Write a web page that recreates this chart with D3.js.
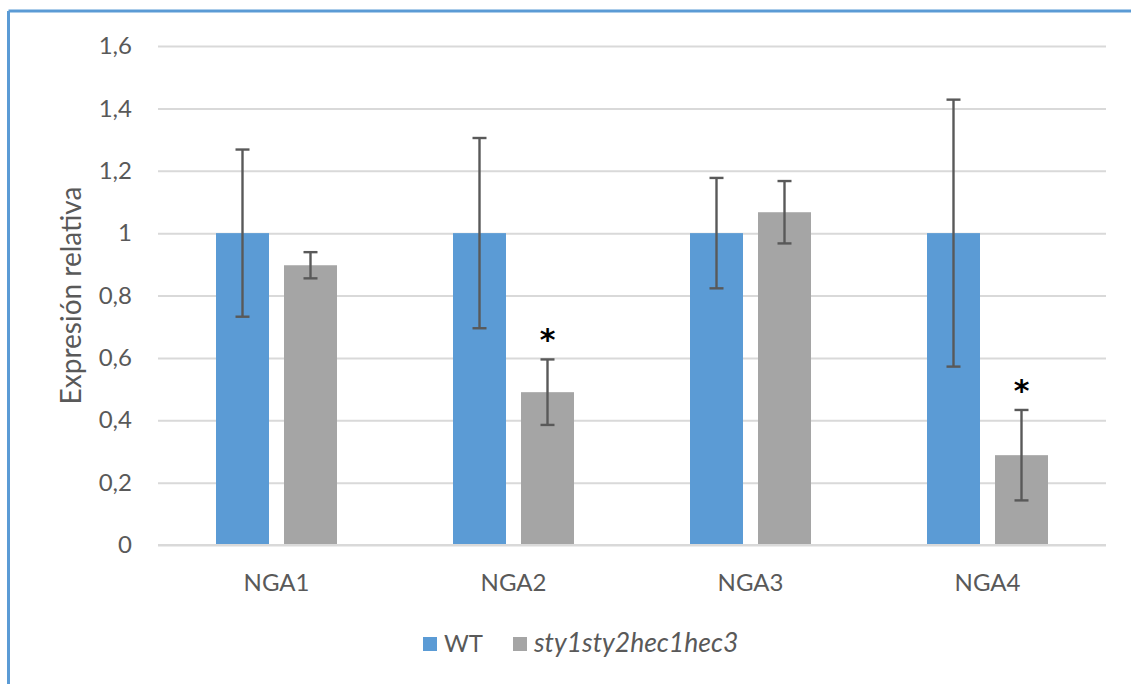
<!DOCTYPE html>
<html>
<head>
<meta charset="utf-8">
<script src="https://cdn.jsdelivr.net/npm/d3@7"></script>
<style>
  html, body { margin: 0; padding: 0; background: #fff; }
  svg { display: block; font-family: Lato, "Open Sans", sans-serif; }
</style>
</head>
<body>
<svg id="chart" width="1131" height="684"></svg>
<script>
const categories = ["NGA1", "NGA2", "NGA3", "NGA4"];
const seriesNames = ["WT", "sty1sty2hec1hec3"];
const wtValues = [1, 1, 1, 1];
const wtErrors = [0.268, 0.305, 0.177, 0.428];
const mutValues = [0.897, 0.49, 1.067, 0.288];
const mutErrors = [0.042, 0.105, 0.1, 0.145];
const significance = ["", "*", "", "*"];
const yTicks = [0, 0.2, 0.4, 0.6, 0.8, 1, 1.2, 1.4, 1.6];
const yTitle = "Expresión relativa";

const colors = { "WT": "#5b9bd5", "sty1sty2hec1hec3": "#a5a5a5" };
const textColor = "#595959";

const svg = d3.select("#chart");

// outer frame (top and left edges visible)
svg.append("line").attr("x1", 8.5).attr("x2", 1131).attr("y1", 11).attr("y2", 11)
  .attr("stroke", "#5b9bd5").attr("stroke-width", 3);
svg.append("line").attr("x1", 8.5).attr("x2", 8.5).attr("y1", 11).attr("y2", 684)
  .attr("stroke", "#5b9bd5").attr("stroke-width", 3);

const plot = { left: 158, right: 1106, top: 46, bottom: 545 };

const y = d3.scaleLinear().domain([0, 1.6]).range([plot.bottom, plot.top]);
const x = d3.scaleBand().domain(categories).range([plot.left, plot.right])
  .paddingInner(116 / 237).paddingOuter(58 / 237);
const xs = d3.scaleBand().domain(seriesNames).range([0, x.bandwidth()])
  .paddingInner(15 / 68);

// gridlines
const grid = svg.append("g").attr("transform", `translate(${plot.left},0)`)
  .call(d3.axisLeft(y).tickValues(yTicks).tickSize(-(plot.right - plot.left)).tickFormat(""));
grid.select(".domain").remove();
grid.selectAll(".tick line").attr("stroke", "#d9d9d9").attr("stroke-width", 2);

// y axis labels
const yAxis = svg.append("g").attr("transform", `translate(${plot.left},0)`)
  .call(d3.axisLeft(y).tickValues(yTicks).tickSize(0).tickPadding(26)
    .tickFormat(d => d3.format("~g")(d).replace(".", ",")));
yAxis.select(".domain").remove();
yAxis.selectAll("text").attr("fill", textColor).style("font-size", "24px")
  .style("font-family", "Lato, sans-serif");

// y title
svg.append("text")
  .attr("transform", `translate(81, ${(plot.top + plot.bottom) / 2}) rotate(-90)`)
  .attr("text-anchor", "middle")
  .attr("fill", textColor)
  .style("font-size", "28px")
  .text(yTitle);

// bars
const rows = categories.map((c, i) => [
  { cat: c, s: seriesNames[0], v: wtValues[i], e: wtErrors[i], sig: "" },
  { cat: c, s: seriesNames[1], v: mutValues[i], e: mutErrors[i], sig: significance[i] }
]).flat();

const g = svg.append("g");
g.selectAll("rect.bar").data(rows).join("rect")
  .attr("class", "bar")
  .attr("x", d => x(d.cat) + xs(d.s))
  .attr("y", d => y(d.v))
  .attr("width", xs.bandwidth())
  .attr("height", d => y(0) - y(d.v))
  .attr("fill", d => colors[d.s]);

// baseline (the 0 gridline drawn on top)
svg.append("line").attr("x1", plot.left).attr("x2", plot.right)
  .attr("y1", y(0)).attr("y2", y(0)).attr("stroke", "#d9d9d9").attr("stroke-width", 2);

// error bars
const eb = g.selectAll("g.err").data(rows).join("g").attr("class", "err")
  .attr("stroke", "#595959").attr("stroke-width", 2.4);
const cx = d => x(d.cat) + xs(d.s) + xs.bandwidth() / 2;
eb.append("line").attr("x1", cx).attr("x2", cx)
  .attr("y1", d => y(d.v + d.e)).attr("y2", d => y(d.v - d.e));
eb.append("line").attr("x1", d => cx(d) - 7).attr("x2", d => cx(d) + 7)
  .attr("y1", d => y(d.v + d.e)).attr("y2", d => y(d.v + d.e));
eb.append("line").attr("x1", d => cx(d) - 7).attr("x2", d => cx(d) + 7)
  .attr("y1", d => y(d.v - d.e)).attr("y2", d => y(d.v - d.e));

// significance asterisks
g.selectAll("text.sig").data(rows.filter(d => d.sig)).join("text")
  .attr("class", "sig")
  .attr("x", cx)
  .attr("y", d => y(d.v + d.e) - 9)
  .attr("text-anchor", "middle")
  .attr("fill", "#000")
  .style("font-size", "30px")
  .style("font-weight", "bold")
  .style("font-family", "'DejaVu Sans', sans-serif")
  .text(d => d.sig);

// x axis labels
const xAxis = svg.append("g").attr("transform", `translate(0,${plot.bottom})`)
  .call(d3.axisBottom(x).tickSize(0).tickPadding(29));
xAxis.select(".domain").remove();
xAxis.selectAll("text").attr("fill", textColor).style("font-size", "24px")
  .style("font-family", "Lato, sans-serif");

// legend
const legendItems = [
  { name: seriesNames[0], x: 423, italic: false, size: 24 },
  { name: seriesNames[1], x: 513, italic: true, size: 26.5 }
];
const lg = svg.append("g").selectAll("g").data(legendItems).join("g")
  .attr("transform", d => `translate(${d.x},637)`);
lg.append("rect").attr("width", 14).attr("height", 14).attr("fill", d => colors[d.name]);
lg.append("text").attr("x", 21).attr("y", 15)
  .attr("fill", textColor)
  .style("font-size", d => d.size + "px")
  .style("font-style", d => d.italic ? "italic" : "normal")
  .text(d => d.name);
</script>
</body>
</html>
